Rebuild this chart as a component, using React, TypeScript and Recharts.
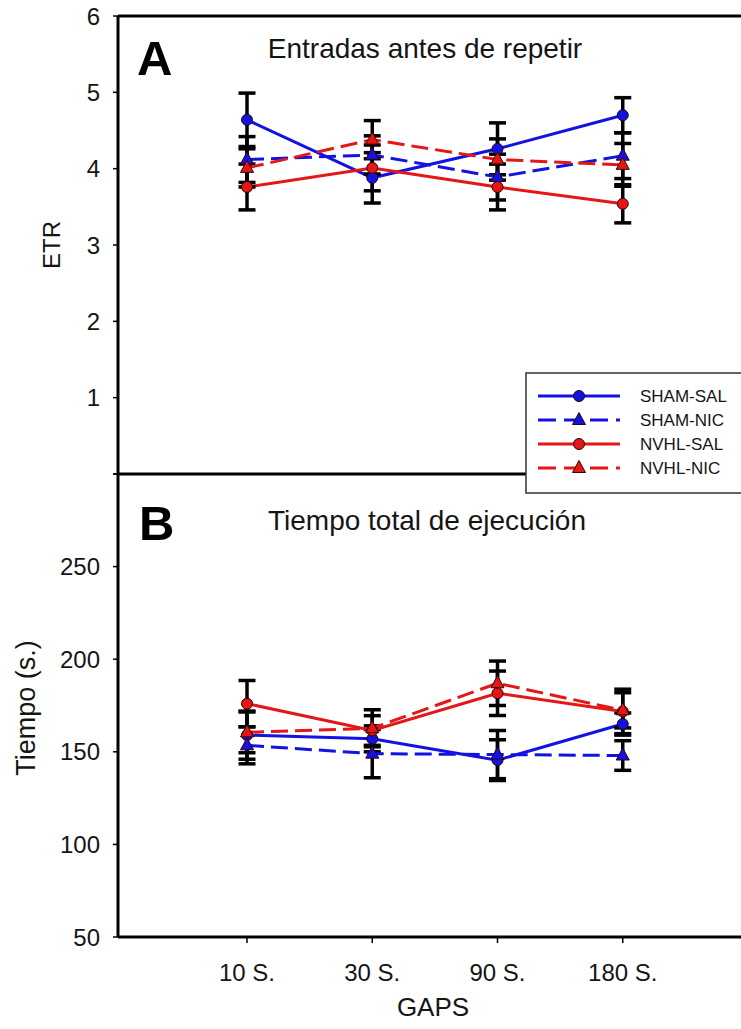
import React from 'react';
import { LineChart, Line, XAxis, YAxis, ErrorBar, ReferenceLine, Label } from 'recharts';

// ---------- Data ----------
const gapLabels = ['10 S.', '30 S.', '90 S.', '180 S.'];
const gapPositions = [1, 2, 3, 4];

// Panel A: Entradas antes de repetir (ETR)
const etrShamSal = [4.64, 3.88, 4.26, 4.7];
const etrShamSalErr = [0.35, 0.33, 0.34, 0.23];
const etrShamNic = [4.12, 4.18, 3.89, 4.17];
const etrShamNicErr = [0.3, 0.25, 0.3, 0.3];
const etrNvhlSal = [3.76, 4.01, 3.76, 3.54];
const etrNvhlSalErr = [0.3, 0.3, 0.3, 0.25];
const etrNvhlNic = [4.01, 4.38, 4.12, 4.05];
const etrNvhlNicErr = [0.25, 0.25, 0.27, 0.28];

// Panel B: Tiempo total de ejecución (s.)
const timeShamSal = [159, 157, 145.5, 165];
const timeShamSalErr = [13, 7, 11, 6];
const timeShamNic = [153.5, 149, 148.5, 148];
const timeShamNicErr = [10, 13, 13, 8];
const timeNvhlSal = [176, 161.5, 181.6, 171.8];
const timeNvhlSalErr = [12.5, 8, 12, 12];
const timeNvhlNic = [160.5, 162.7, 187, 172.4];
const timeNvhlNicErr = [11, 10, 12, 9.5];

const etrTicks = [0, 1, 2, 3, 4, 5, 6];
const timeTicks = [50, 100, 150, 200, 250, 300];

const BLUE = '#1212e2';
const RED = '#e41616';

const seriesMeta = [
  { key: 'shamSal', name: 'SHAM-SAL', color: BLUE, dashed: false, shape: 'circle' },
  { key: 'shamNic', name: 'SHAM-NIC', color: BLUE, dashed: true, shape: 'triangle' },
  { key: 'nvhlSal', name: 'NVHL-SAL', color: RED, dashed: false, shape: 'circle' },
  { key: 'nvhlNic', name: 'NVHL-NIC', color: RED, dashed: true, shape: 'triangle' },
];

const dataA = gapPositions.map((x, i) => ({
  x,
  shamSal: etrShamSal[i], shamSalErr: etrShamSalErr[i],
  shamNic: etrShamNic[i], shamNicErr: etrShamNicErr[i],
  nvhlSal: etrNvhlSal[i], nvhlSalErr: etrNvhlSalErr[i],
  nvhlNic: etrNvhlNic[i], nvhlNicErr: etrNvhlNicErr[i],
}));

const dataB = gapPositions.map((x, i) => ({
  x,
  shamSal: timeShamSal[i], shamSalErr: timeShamSalErr[i],
  shamNic: timeShamNic[i], shamNicErr: timeShamNicErr[i],
  nvhlSal: timeNvhlSal[i], nvhlSalErr: timeNvhlSalErr[i],
  nvhlNic: timeNvhlNic[i], nvhlNicErr: timeNvhlNicErr[i],
}));

// ---------- Styles ----------
const FONT = '"Liberation Sans", Arial, sans-serif';
const DASH = '17 7';
const X_DOMAIN: [number, number] = [-0.03, 5];
const CHART_W = 800;
const RIGHT_M = 52;

function makeDot(color: string, shape: string) {
  return (props: any) => {
    const { cx, cy, index } = props;
    if (cx == null || cy == null) return <g key={`e${index}`} />;
    if (shape === 'triangle') {
      return (
        <polygon
          key={`t${index}`}
          points={`${cx},${cy - 7.5} ${cx - 6.5},${cy + 4.5} ${cx + 6.5},${cy + 4.5}`}
          fill={color}
          stroke="#3a0000"
          strokeWidth={1}
        />
      );
    }
    return <circle key={`c${index}`} cx={cx} cy={cy} r={5.5} fill={color} stroke="#2a0000" strokeWidth={1} />;
  };
}

function renderLines() {
  return seriesMeta.map((s) => (
    <Line
      key={s.key}
      type="linear"
      dataKey={s.key}
      name={s.name}
      stroke={s.color}
      strokeWidth={3}
      strokeDasharray={s.dashed ? DASH : undefined}
      dot={makeDot(s.color, s.shape)}
      activeDot={false}
      isAnimationActive={false}
    >
      <ErrorBar dataKey={`${s.key}Err`} width={8.5} stroke="#000" strokeWidth={3.5} direction="y" />
    </Line>
  ));
}

const tickStyle = { fontSize: 24, fill: '#151515', fontFamily: FONT };

function LegendBox() {
  const rows = [396, 420, 444, 468];
  return (
    <g>
      <rect x={526} y={373} width={240} height={120} fill="#fff" stroke="#333" strokeWidth={1.5} />
      {seriesMeta.map((s, i) => {
        const y = rows[i];
        return (
          <g key={s.key}>
            <line x1={538} x2={620} y1={y} y2={y} stroke={s.color} strokeWidth={3} strokeDasharray={s.dashed ? '18 8' : undefined} />
            {s.shape === 'circle' ? (
              <circle cx={579} cy={y} r={5.5} fill={s.color} stroke="#2a0000" strokeWidth={1} />
            ) : (
              <polygon points={`579,${y - 7.5} 572.5,${y + 4.5} 585.5,${y + 4.5}`} fill={s.color} stroke="#3a0000" strokeWidth={1} />
            )}
            <text x={640} y={y + 6} fontSize={17} fill="#151515" fontFamily={FONT}>{s.name}</text>
          </g>
        );
      })}
    </g>
  );
}

export default function App() {
  return (
    <div style={{ position: 'absolute', left: 0, top: 0, width: 741, height: 1029, overflow: 'hidden', background: '#fff', fontFamily: FONT }}>
      {/* Panel A */}
      <div style={{ position: 'absolute', left: 0, top: 0 }}>
        <LineChart width={CHART_W} height={480} data={dataA} margin={{ top: 16, right: RIGHT_M, bottom: 6, left: 0 }}>
          <XAxis type="number" dataKey="x" domain={X_DOMAIN} hide allowDataOverflow />
          <YAxis
            type="number"
            domain={[0, 6]}
            ticks={etrTicks}
            interval={0}
            width={118}
            tickFormatter={(v: number) => (v === 0 ? '' : String(v))}
            axisLine={{ stroke: '#000', strokeWidth: 3 }}
            tickLine={{ stroke: '#000', strokeWidth: 1.5 }}
            tickSize={5}
            tickMargin={13}
            tick={tickStyle}
            allowDataOverflow
          >
            <Label
              content={(props: any) => {
                const vb = props.viewBox || { y: 16, height: 458 };
                const cy = vb.y + vb.height / 2;
                return (
                  <text x={51} y={cy} transform={`rotate(-90 51 ${cy})`} textAnchor="middle" dominantBaseline="central" fontSize={24} fill="#151515" fontFamily={FONT}>
                    ETR
                  </text>
                );
              }}
            />
          </YAxis>
          <ReferenceLine y={6} stroke="#000" strokeWidth={3} />
          <ReferenceLine y={0} stroke="#000" strokeWidth={3} />
          {renderLines()}
        </LineChart>
      </div>

      {/* Panel B */}
      <div style={{ position: 'absolute', left: 0, top: 460 }}>
        <LineChart width={CHART_W} height={569} data={dataB} margin={{ top: 14, right: RIGHT_M, bottom: 0, left: 0 }}>
          <XAxis
            type="number"
            dataKey="x"
            domain={X_DOMAIN}
            ticks={gapPositions}
            interval={0}
            height={92}
            allowDataOverflow
            tickFormatter={(v: number) => gapLabels[gapPositions.indexOf(v)] ?? ''}
            axisLine={{ stroke: '#000', strokeWidth: 3 }}
            tickLine={{ stroke: '#000', strokeWidth: 1.5 }}
            tickSize={6}
            tickMargin={21}
            tick={tickStyle}
          >
            <Label
              content={(props: any) => {
                const vb = props.viewBox || { x: 118, width: 630 };
                const cx = vb.x + vb.width / 2;
                return (
                  <text x={cx} y={556} textAnchor="middle" fontSize={26} fill="#151515" fontFamily={FONT}>
                    GAPS
                  </text>
                );
              }}
            />
          </XAxis>
          <YAxis
            type="number"
            domain={[50, 300]}
            ticks={timeTicks}
            interval={0}
            width={118}
            tickFormatter={(v: number) => (v === 300 ? '' : String(v))}
            axisLine={{ stroke: '#000', strokeWidth: 3 }}
            tickLine={{ stroke: '#000', strokeWidth: 1.5 }}
            tickSize={5}
            tickMargin={13}
            tick={tickStyle}
            allowDataOverflow
          >
            <Label
              content={() => {
                const cy = 708 - 460;
                return (
                  <text x={26} y={cy} transform={`rotate(-90 26 ${cy})`} textAnchor="middle" dominantBaseline="central" fontSize={27} fill="#151515" fontFamily={FONT}>
                    Tiempo (s.)
                  </text>
                );
              }}
            />
          </YAxis>
          {renderLines()}
        </LineChart>
      </div>

      {/* Titles, panel letters and legend */}
      <svg width={741} height={1029} style={{ position: 'absolute', left: 0, top: 0, pointerEvents: 'none' }}>
        <text x={137} y={75} fontSize={49} fontWeight="bold" fill="#000" fontFamily={FONT}>A</text>
        <text x={425} y={58} textAnchor="middle" fontSize={28} fill="#151515" fontFamily={FONT}>Entradas antes de repetir</text>
        <text x={139} y={540} fontSize={49} fontWeight="bold" fill="#000" fontFamily={FONT}>B</text>
        <text x={427} y={530} textAnchor="middle" fontSize={28} fill="#151515" fontFamily={FONT}>Tiempo total de ejecución</text>
        <LegendBox />
      </svg>
    </div>
  );
}
